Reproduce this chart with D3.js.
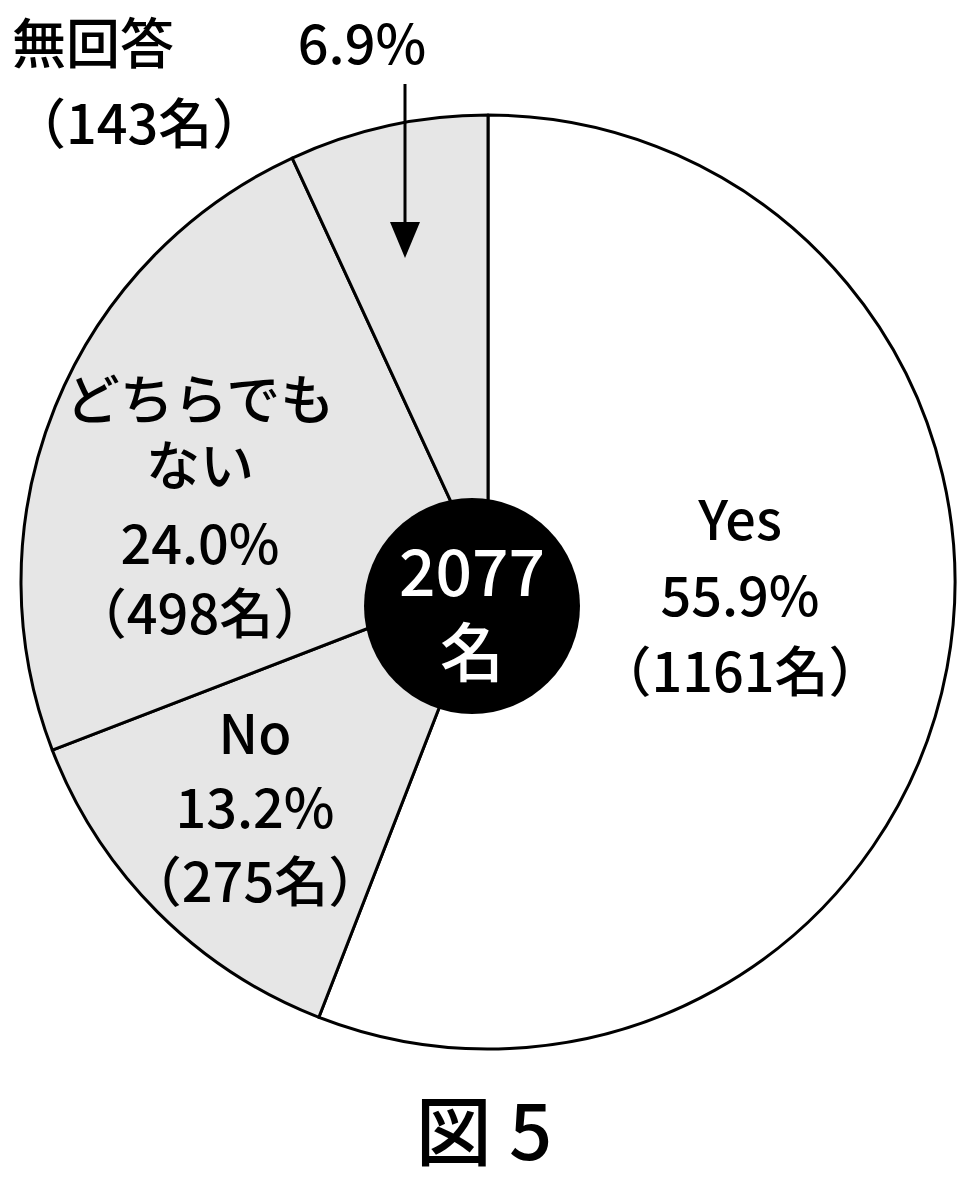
<!DOCTYPE html>
<html>
<head>
<meta charset="utf-8">
<script src="https://d3js.org/d3.v7.min.js"></script>
<style>
body{margin:0;background:#fff}
text{font-family:"Noto Sans CJK JP","Noto Sans",sans-serif;font-weight:500}
</style>
</head>
<body>
<script>
// slices clockwise from 12 o'clock
var categories = ["Yes", "No", "どちらでもない", "無回答"];
var counts = [1161, 275, 498, 143];
var percents = ["55.9%", "13.2%", "24.0%", "6.9%"];
var fills = ["#ffffff", "#e6e6e6", "#e6e6e6", "#e6e6e6"];
var total = 2077;

var W = 974, H = 1186;
var cx = 488, cy = 582, R = 467;

var svg = d3.select("body").append("svg").attr("width", W).attr("height", H);

var pie = d3.pie().sort(null).value(d => d)(counts);
var arc = d3.arc().innerRadius(0).outerRadius(R);

var g = svg.append("g").attr("transform", `translate(${cx},${cy})`);
g.selectAll("path").data(pie).join("path")
  .attr("d", arc)
  .attr("fill", (d, i) => fills[i])
  .attr("stroke", "#000")
  .attr("stroke-width", 3)
  .attr("stroke-linejoin", "round");

// centre total
svg.append("circle").attr("cx", 472).attr("cy", 606).attr("r", 108).attr("fill", "#000");
svg.append("text").attr("x", 472).attr("y", 596).attr("text-anchor", "middle")
  .attr("font-size", 64).attr("fill", "#fff").text(total);
svg.append("text").attr("x", 472).attr("y", 676).attr("text-anchor", "middle")
  .attr("font-size", 64).attr("fill", "#fff").text("名");

function lines(x, ys, texts, anchor) {
  texts.forEach((t, i) => svg.append("text").attr("x", x).attr("y", ys[i])
    .attr("text-anchor", anchor || "middle").attr("font-size", 54).attr("fill", "#000").text(t));
}

lines(740, [540, 616, 692], [categories[0], percents[0], "（" + counts[0] + "名）"]);
lines(255, [754, 828, 902], [categories[1], percents[1], "（" + counts[1] + "名）"]);
lines(200, [420, 486, 564, 634], ["どちらでも", "ない", percents[2], "（" + counts[2] + "名）"]);
lines(12, [64, 144], [categories[3], "（" + counts[3] + "名）"], "start");
lines(362, [64], [percents[3]]);

// arrow for the small slice
svg.append("line").attr("x1", 405).attr("y1", 84).attr("x2", 405).attr("y2", 225)
  .attr("stroke", "#000").attr("stroke-width", 3);
svg.append("path").attr("d", "M390,222 L420,222 L405,258 Z").attr("fill", "#000");

svg.append("text").attr("x", 484).attr("y", 1160).attr("text-anchor", "middle")
  .attr("font-size", 76).attr("fill", "#000").text("図 5");
</script>
</body>
</html>
